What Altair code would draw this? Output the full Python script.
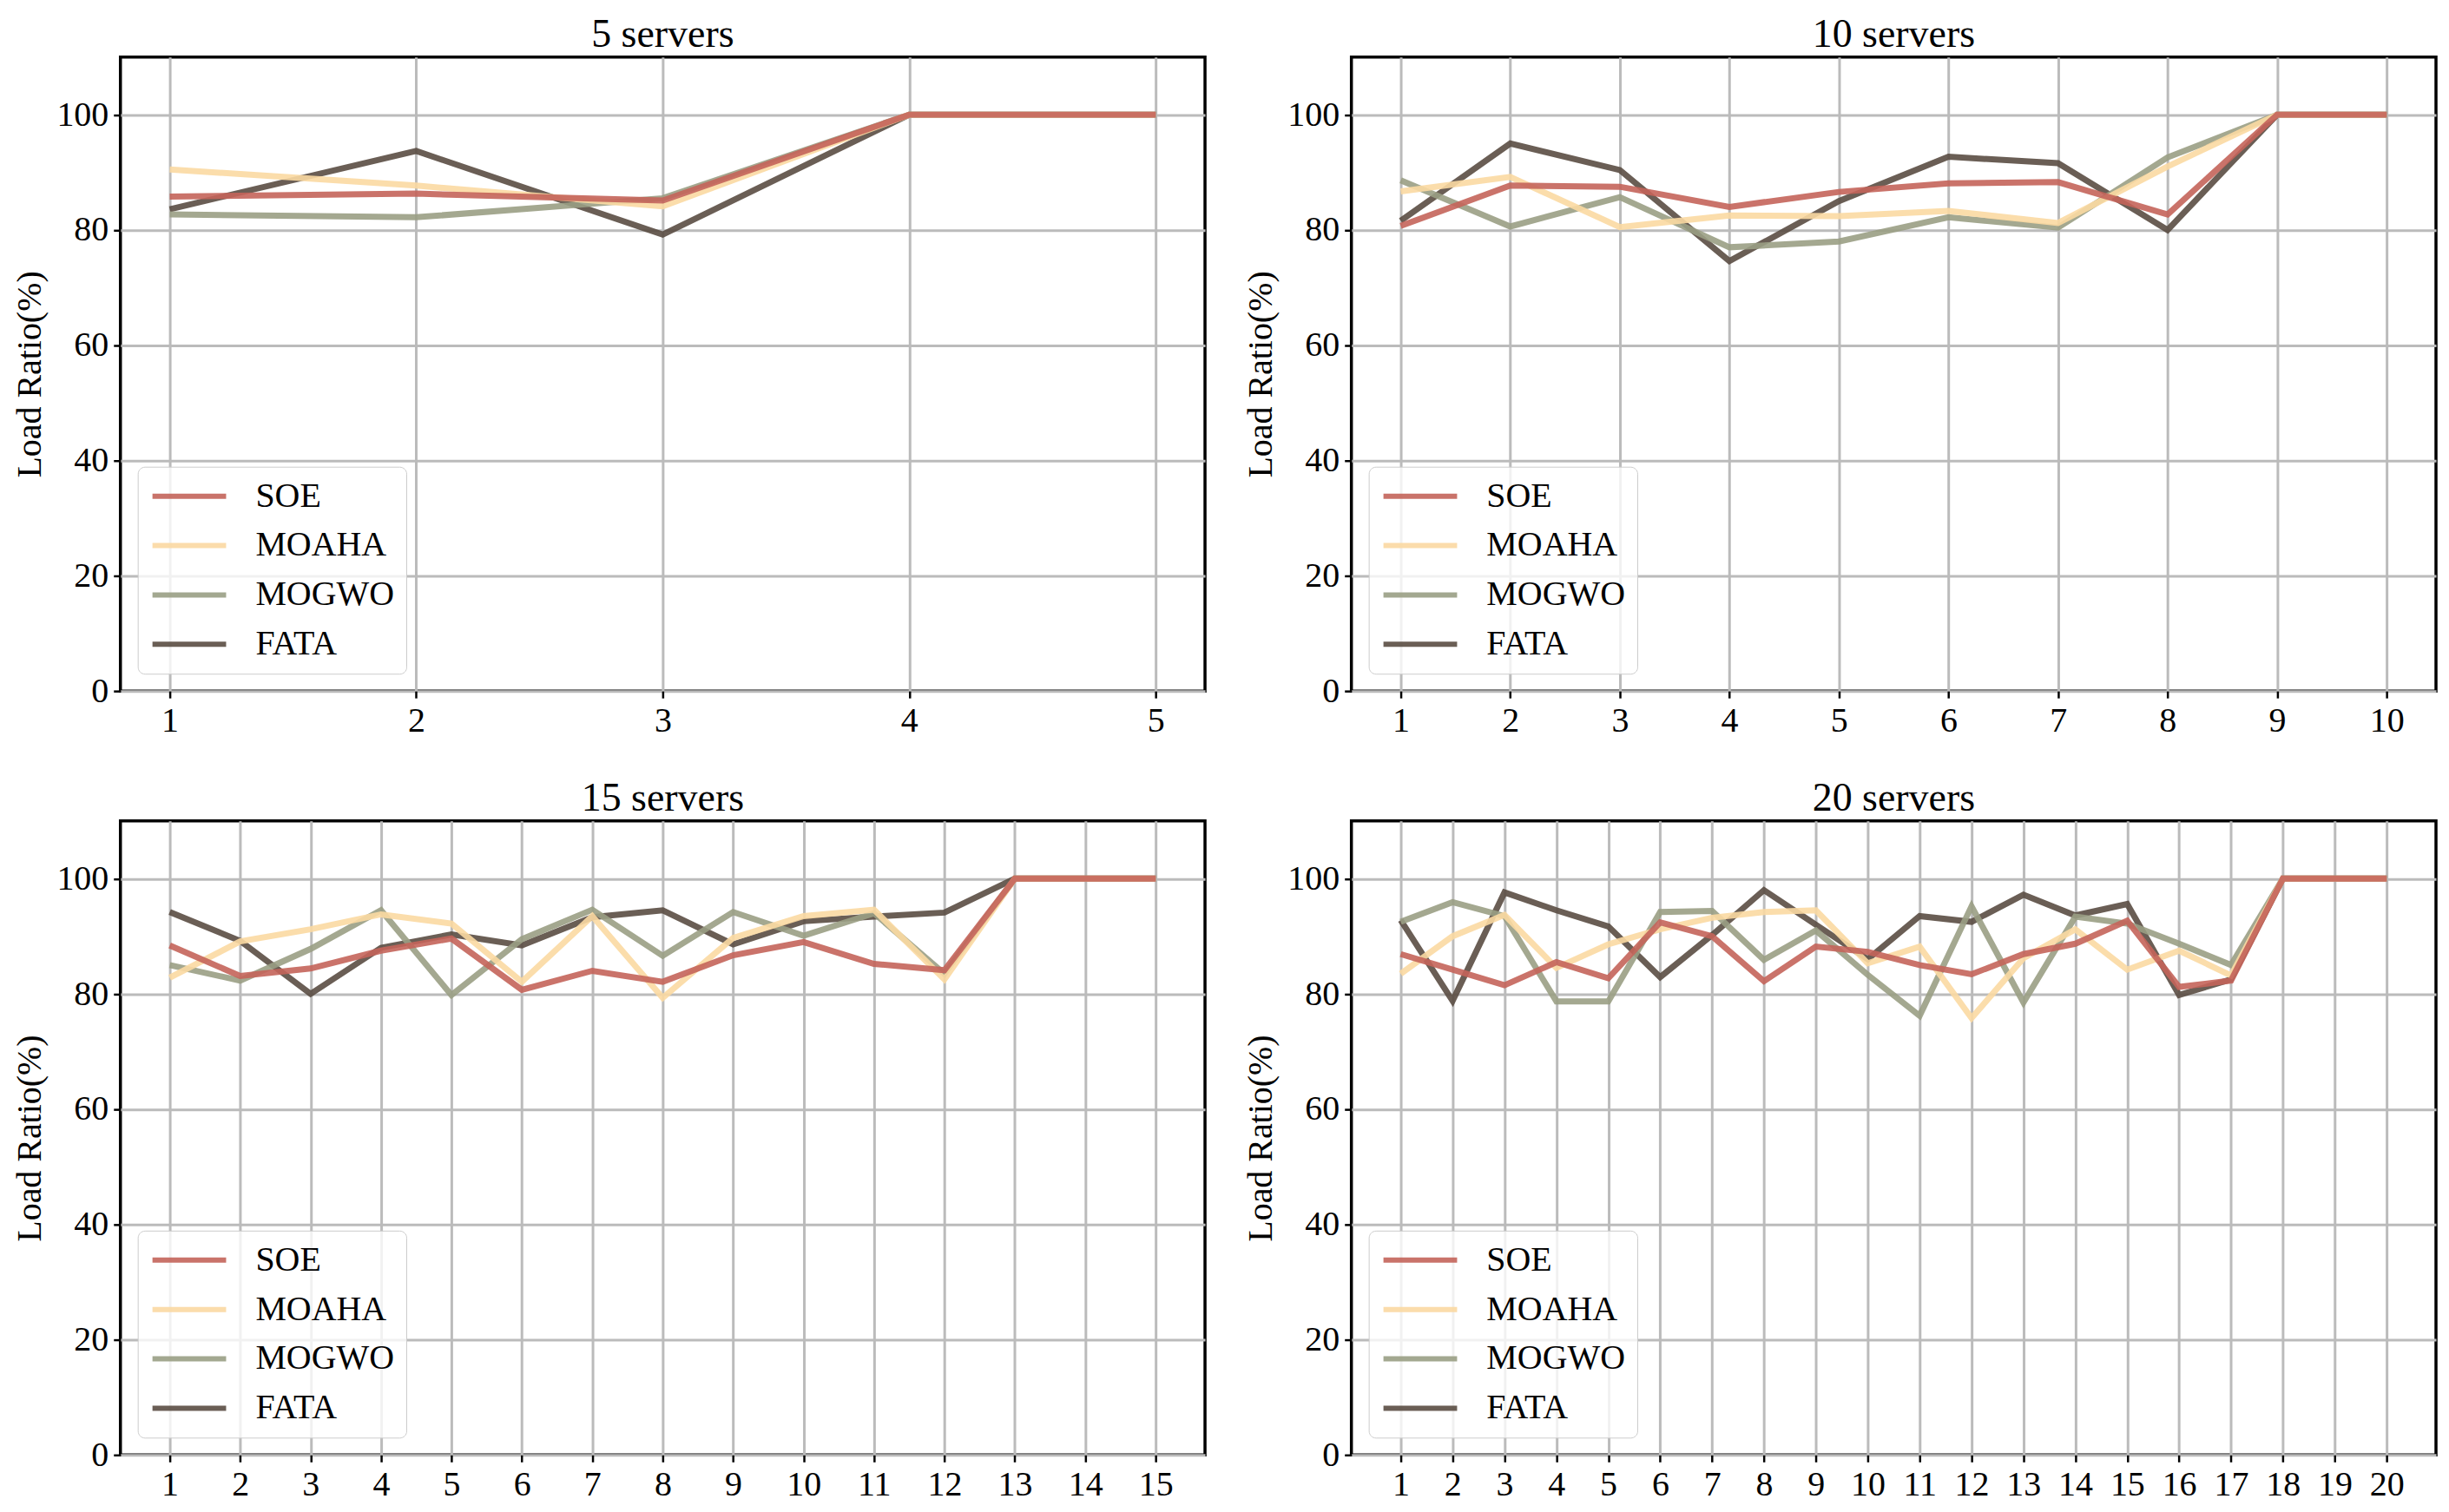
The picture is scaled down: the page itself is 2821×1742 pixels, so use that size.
import altair as alt
import pandas as pd

names = ["SOE", "MOAHA", "MOGWO", "FATA"]
colors = ["#C4645A", "#FBD9A2", "#9A9F84", "#5A4D43"]

soe5 = [85.8, 86.3, 85.1, 100, 100]
moaha5 = [90.5, 87.7, 84.1, 100, 100]
mogwo5 = [82.7, 82.2, 85.5, 100, 100]
fata5 = [83.6, 93.7, 79.2, 100, 100]

soe10 = [80.7, 87.7, 87.5, 84.0, 86.6, 88.1, 88.3, 82.7, 100, 100]
moaha10 = [86.7, 89.2, 80.5, 82.5, 82.4, 83.3, 81.2, 91.0, 100, 100]
mogwo10 = [88.6, 80.6, 85.7, 77.0, 78.0, 82.2, 80.4, 92.6, 100, 100]
fata10 = [81.6, 95.0, 90.4, 74.6, 85.0, 92.7, 91.6, 80.0, 100, 100]

soe15 = [88.4, 83.1, 84.4, 87.5, 89.6, 80.7, 84.0, 82.1, 86.7, 89.0, 85.2, 84.1, 100, 100, 100]
moaha15 = [82.8, 89.1, 91.2, 93.8, 92.2, 82.1, 93.5, 79.3, 89.7, 93.5, 94.6, 82.5, 100, 100, 100]
mogwo15 = [85.0, 82.3, 87.8, 94.5, 79.8, 89.5, 94.6, 86.6, 94.2, 90.1, 94.0, 83.5, 100, 100, 100]
fata15 = [94.2, 89.2, 80.0, 88.0, 90.3, 88.4, 93.3, 94.5, 88.6, 92.6, 93.4, 94.1, 100, 100, 100]

soe20 = [86.9, 84.2, 81.5, 85.5, 82.7, 92.4, 90.0, 82.2, 88.2, 87.3, 85.0, 83.4, 86.9, 88.7, 92.7, 81.2, 82.3, 100, 100, 100]
moaha20 = [83.5, 90.0, 93.7, 84.5, 88.6, 91.2, 93.2, 94.2, 94.5, 85.3, 88.2, 75.8, 86.2, 91.2, 84.2, 87.5, 83.2, 100, 100, 100]
mogwo20 = [92.5, 95.9, 93.5, 78.7, 78.7, 94.2, 94.4, 85.9, 91.0, 83.3, 76.2, 95.2, 78.5, 93.4, 92.2, 88.7, 85.0, 100, 100, 100]
fata20 = [92.8, 78.8, 97.6, 94.5, 91.7, 82.9, 90.2, 98.0, 92.0, 86.0, 93.5, 92.5, 97.2, 93.6, 95.6, 79.8, 82.5, 100, 100, 100]

y_ticks = [0, 20, 40, 60, 80, 100]
FONT = "Liberation Serif"
PW, PH = 1252, 732


def panel(n, series):
    rows = []
    for name, vals in zip(names, series):
        for i, v in enumerate(vals):
            rows.append({"server": i + 1, "ratio": v, "alg": name})
    df = pd.DataFrame(rows)
    margin = (n - 1) * 0.05
    xs = alt.X("server:Q",
               scale=alt.Scale(domain=[1 - margin, n + margin], nice=False, zero=False),
               axis=alt.Axis(values=list(range(1, n + 1)), title=None, format="d",
                             labelFontSize=40, labelFont=FONT, labelColor="black",
                             tickSize=8, tickWidth=2.5, tickColor="black",
                             labelPadding=6, domain=False,
                             gridColor="#BBBBBB", gridWidth=3))
    ys = alt.Y("ratio:Q",
               scale=alt.Scale(domain=[0, 110], nice=False),
               axis=alt.Axis(values=y_ticks, title="Load Ratio(%)",
                             titleFontSize=40, titleFont=FONT, titleFontWeight="normal",
                             titleColor="black", titlePadding=10,
                             labelFontSize=40, labelFont=FONT, labelColor="black",
                             tickSize=8, tickWidth=2.5, tickColor="black",
                             labelPadding=6, domain=False,
                             gridColor="#BBBBBB", gridWidth=3))
    legend = alt.Legend(orient="bottom-left", offset=20, title=None,
                        symbolType="M-1,0L4,0", symbolSize=1156, symbolStrokeWidth=6,
                        symbolOpacity=0.9,
                        labelFontSize=40, labelFont=FONT, labelColor="black",
                        labelOffset=82, rowPadding=17, padding=14,
                        fillColor="rgba(255,255,255,0.8)", strokeColor="#CCCCCC",
                        cornerRadius=8)
    col = alt.Color("alg:N", scale=alt.Scale(domain=names, range=colors), legend=legend)
    layers = []
    for name in ["FATA", "MOGWO", "MOAHA", "SOE"]:
        layers.append(
            alt.Chart(df).transform_filter(alt.datum.alg == name)
            .mark_line(strokeWidth=7, opacity=0.9)
            .encode(x=xs, y=ys, color=col)
        )
    return alt.layer(*layers).properties(
        width=PW, height=PH,
        title=alt.TitleParams(f"{n} servers", fontSize=46, font=FONT,
                              fontWeight="normal", color="black", offset=2))


p5 = panel(5, [soe5, moaha5, mogwo5, fata5])
p10 = panel(10, [soe10, moaha10, mogwo10, fata10])
p15 = panel(15, [soe15, moaha15, mogwo15, fata15])
p20 = panel(20, [soe20, moaha20, mogwo20, fata20])

top = alt.hconcat(p5, p10, spacing=41).resolve_scale(color="independent").resolve_legend(color="independent")
bottom = alt.hconcat(p15, p20, spacing=41).resolve_scale(color="independent").resolve_legend(color="independent")

chart = (
    alt.vconcat(top, bottom, spacing=43)
    .resolve_scale(color="independent")
    .resolve_legend(color="independent")
    .configure(background="white", padding=5)
    .configure_view(stroke="black", strokeWidth=3.5)
)

chart.save("out.html", embed_options={"renderer": "svg", "actions": False})
